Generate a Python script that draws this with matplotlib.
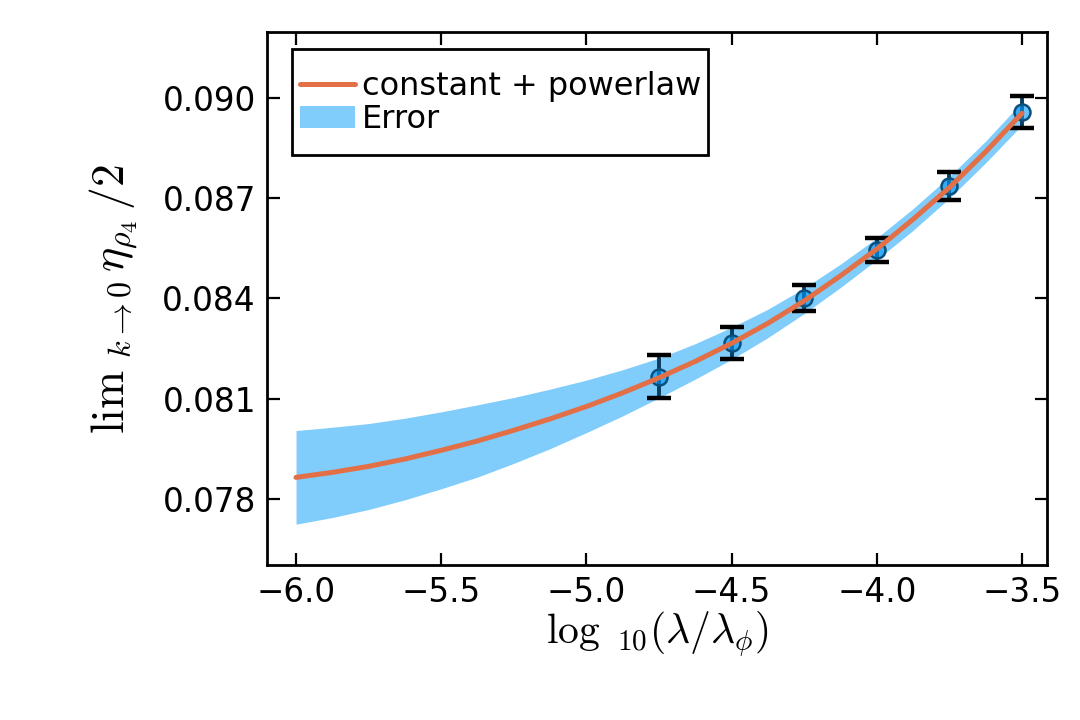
import matplotlib
matplotlib.use('Agg')
import matplotlib.pyplot as plt
from matplotlib.patches import Rectangle
from matplotlib.ticker import FuncFormatter

plt.rcParams['mathtext.fontset'] = 'cm'
plt.rcParams['font.family'] = ['DejaVu Sans']

# measured points with error bars
x_data = [-4.75, -4.5, -4.25, -4.0, -3.75, -3.5]
y_data = [0.08166, 0.08267, 0.08402, 0.08545, 0.08737, 0.08958]
y_err = [0.00065, 0.00048, 0.00039, 0.00037, 0.00042, 0.00048]

# fit curve (constant + powerlaw) and its error band
fit_x = [-6.0, -5.875, -5.75, -5.625, -5.5, -5.375, -5.25, -5.125, -5.0, -4.875, -4.75,
         -4.625, -4.5, -4.375, -4.25, -4.125, -4.0, -3.875, -3.75, -3.625, -3.5]
fit_y = [0.07865, 0.07880, 0.07898, 0.07920, 0.07946, 0.07974, 0.08006, 0.08040, 0.08077,
         0.08118, 0.08163, 0.08212, 0.08266, 0.08326, 0.08393, 0.08468, 0.08548, 0.08637,
         0.08732, 0.08839, 0.08954]
band_hi = [0.08005, 0.08015, 0.08026, 0.08042, 0.08061, 0.08082, 0.08104, 0.08129, 0.08156,
           0.08187, 0.08222, 0.08265, 0.08314, 0.08368, 0.08431, 0.08503, 0.08581, 0.08669,
           0.08765, 0.08871, 0.08988]
band_lo = [0.07725, 0.07745, 0.07769, 0.07798, 0.07831, 0.07866, 0.07907, 0.07951, 0.07999,
           0.08049, 0.08103, 0.08159, 0.08218, 0.08283, 0.08355, 0.08433, 0.08516, 0.08604,
           0.08700, 0.08806, 0.08919]

xticks = [-6.0, -5.5, -5.0, -4.5, -4.0, -3.5]
yticks = [0.078, 0.081, 0.084, 0.087, 0.090]

fig = plt.figure(figsize=(10.8, 7.2), dpi=100)
ax = fig.add_axes([267 / 1080, 155 / 720, 780 / 1080, 533 / 720])

band = ax.fill_between(fit_x, band_lo, band_hi, color='#80CCFB', linewidth=0, label='Error', zorder=1)

# error bars: dark vertical stroke, black caps
ax.errorbar(x_data, y_data, yerr=y_err, fmt='none', ecolor='#0a3d5e', elinewidth=2.8,
            capsize=0, zorder=2)
for cap_x, cap_y, e in zip(x_data, y_data, y_err):
    ax.plot([cap_x, cap_x], [cap_y - e, cap_y + e], linestyle='none', marker='_',
            markersize=17, markeredgewidth=3.2, color='black', zorder=3)
ax.plot(x_data, y_data, linestyle='none', marker='o', markersize=11.5,
        markerfacecolor=(0.0, 0.6, 0.98, 0.6), markeredgecolor='#0a4f7c',
        markeredgewidth=1.8, zorder=4)

line, = ax.plot(fit_x, fit_y, color='#E26F46', linewidth=3.6, label='constant + powerlaw',
                solid_capstyle='round', zorder=5)

ax.set_xlim(-6.1, -3.414)
ax.set_ylim(0.07603, 0.09197)
ax.set_xticks(xticks)
ax.set_yticks(yticks)
ax.xaxis.set_major_formatter(FuncFormatter(lambda v, p: f'{v:.1f}'.replace('-', '\u2212')))
ax.yaxis.set_major_formatter(FuncFormatter(lambda v, p: f'{v:.3f}'))
ax.tick_params(direction='in', length=9, width=1.6, labelsize=23.5,
               top=True, right=True, pad=8)
for s in ax.spines.values():
    s.set_linewidth(2)

ax.set_xlabel(r'$\log\;{}_{10}(\lambda/\lambda_{\phi})$', fontsize=30, labelpad=0)
ax.set_ylabel(r'$\mathrm{lim}\;{}_{k\rightarrow 0}\,\eta_{\rho_4}\,/2$', fontsize=33, labelpad=16)

# legend box drawn separately so its padding matches
ax.add_patch(Rectangle((0.0321, 0.7692), 0.5333, 0.1989, transform=ax.transAxes,
                       facecolor='white', edgecolor='black', linewidth=2, zorder=9))
leg = ax.legend([line, band], ['constant + powerlaw', 'Error'], loc='center left',
                fontsize=23, frameon=False, handlelength=1.72, borderpad=0.25,
                labelspacing=0.08, handletextpad=0.22, borderaxespad=0,
                bbox_to_anchor=(0.0321, 0.8668))
leg.set_zorder(10)

fig.savefig('out.png', dpi=100)
